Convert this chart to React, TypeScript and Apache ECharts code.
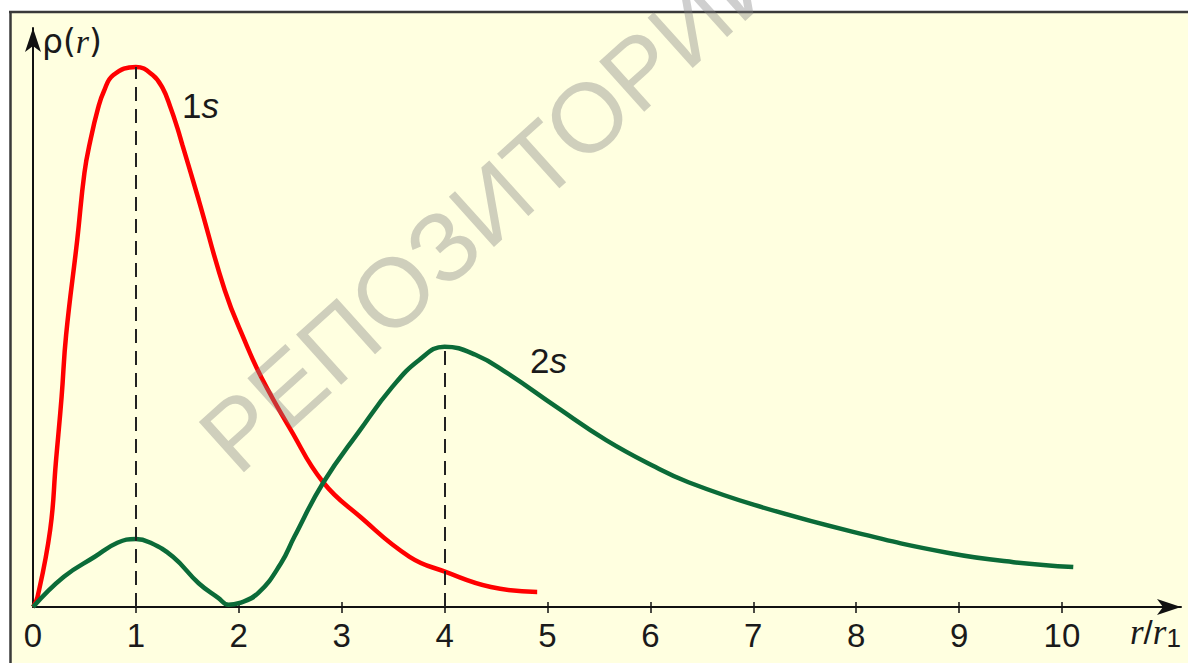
import React, { useEffect, useRef } from "react";
import * as echarts from "echarts";

// r / r1 values and relative probability density
const r1s = [0, 0.044, 0.167, 0.222, 0.278, 0.322, 0.43, 0.5, 0.559, 0.633, 0.689, 0.781, 1.0, 1.163, 1.259, 1.338, 1.403, 1.451, 1.61, 1.863, 2.055, 2.22, 2.505, 2.82, 3.18, 3.66, 4.01, 4.45, 4.9];
const rho1s = [0, 0.0185, 0.143, 0.267, 0.389, 0.504, 0.68, 0.804, 0.865, 0.924, 0.955, 0.985, 1.0, 0.985, 0.961, 0.924, 0.887, 0.856, 0.754, 0.587, 0.494, 0.425, 0.328, 0.231, 0.167, 0.093, 0.065, 0.037, 0.028];

const r2s = [0, 0.3, 0.6, 0.82, 1.0, 1.13, 1.36, 1.61, 1.8, 1.9, 2.0, 2.19, 2.41, 2.54, 2.82, 3.18, 3.49, 3.75, 4.0, 4.3, 4.61, 5.09, 5.57, 6.05, 6.37, 7.01, 7.97, 8.9, 9.53, 10.11];
const rho2s = [0, 0.056, 0.093, 0.119, 0.126, 0.12, 0.093, 0.044, 0.017, 0.004, 0.007, 0.026, 0.081, 0.13, 0.23, 0.328, 0.407, 0.457, 0.482, 0.467, 0.433, 0.37, 0.309, 0.259, 0.231, 0.189, 0.139, 0.1, 0.083, 0.074];

// most probable radii (dashed markers)
const peak1s = [1, 1.0];
const peak2s = [4, 0.482];

const tickLabels = [0, 1, 2, 3, 4, 5, 6, 7, 8, 9, 10];
const tickMarks = [1, 2, 3, 4, 5, 6, 7, 8, 9, 10];

const X_MAX = 11.157;
const Y_MAX = 1.072;

const sans = '"Liberation Sans", Arial, sans-serif';

export default function App() {
  const ref = useRef<HTMLDivElement>(null);

  useEffect(() => {
    if (!ref.current) return;
    const chart = echarts.init(ref.current, null, { renderer: "svg" });

    const dash = { type: [14, 8] as any, color: "#222", width: 2 };

    chart.setOption({
      animation: false,
      backgroundColor: "#FFFFE0",
      grid: { left: 33, right: 7, top: 28, bottom: 56, containLabel: false },
      xAxis: [
        {
          type: "value",
          min: 0,
          max: X_MAX,
          interval: 1,
          axisLine: {
            show: true,
            onZero: false,
            symbol: ["none", "arrow"],
            symbolSize: [12, 24],
            lineStyle: { color: "#111", width: 2 },
          },
          axisTick: {
            show: true,
            length: 6,
            customValues: tickMarks,
            lineStyle: { color: "#111", width: 1.5 },
          },
          axisLabel: {
            show: true,
            customValues: tickLabels,
            margin: 12,
            fontSize: 33,
            fontFamily: sans,
            color: "#1a1a1a",
          },
          splitLine: { show: false },
        },
        {
          type: "value",
          min: 0,
          max: X_MAX,
          interval: 1,
          position: "bottom",
          axisLine: { show: false },
          axisTick: {
            show: true,
            inside: true,
            length: 5,
            customValues: tickMarks,
            lineStyle: { color: "#111", width: 1.5 },
          },
          axisLabel: { show: false },
          splitLine: { show: false },
        },
      ],
      yAxis: {
        type: "value",
        min: 0,
        max: Y_MAX,
        axisLine: {
          show: true,
          onZero: false,
          symbol: ["none", "arrow"],
          symbolSize: [12, 24],
          lineStyle: { color: "#111", width: 2 },
        },
        axisTick: { show: false },
        axisLabel: { show: false },
        splitLine: { show: false },
      },
      series: [
        {
          name: "1s",
          type: "line",
          data: r1s.map((r, i) => [r, rho1s[i]]),
          showSymbol: false,
          smooth: 0.45,
          lineStyle: { color: "#FF0000", width: 4.5 },
          z: 3,
          markLine: {
            silent: true,
            symbol: ["none", "none"],
            label: { show: false },
            lineStyle: dash,
            data: [[{ coord: [peak1s[0], 0] }, { coord: [peak1s[0], peak1s[1]] }]],
          },
        },
        {
          name: "2s",
          type: "line",
          data: r2s.map((r, i) => [r, rho2s[i]]),
          showSymbol: false,
          smooth: 0.45,
          lineStyle: { color: "#0B6B38", width: 4.5 },
          z: 3,
          markLine: {
            silent: true,
            symbol: ["none", "none"],
            label: { show: false },
            lineStyle: dash,
            data: [[{ coord: [peak2s[0], 0] }, { coord: [peak2s[0], peak2s[1]] }]],
          },
        },
      ],
      graphic: [
        { type: "rect", z: -1, shape: { x: 0, y: 0, width: 1188, height: 11 }, style: { fill: "#FFFFFF" } },
        { type: "rect", z: -1, shape: { x: 0, y: 0, width: 10, height: 663 }, style: { fill: "#FFFFFF" } },
        { type: "line", z: 0, shape: { x1: 9, y1: 12, x2: 1188, y2: 12 }, style: { stroke: "#3a3a3a", lineWidth: 2.5 } },
        { type: "line", z: 0, shape: { x1: 10.5, y1: 11, x2: 10.5, y2: 663 }, style: { stroke: "#3a3a3a", lineWidth: 2.5 } },
        {
          type: "text",
          z: 5,
          x: 42,
          y: 24,
          style: {
            text: "{n|ρ(}{i|r}{n|)}",
            rich: {
              n: { fontSize: 33, fontFamily: '"DejaVu Sans", sans-serif', fill: "#1a1a1a" },
              i: { fontSize: 34, fontStyle: "italic", fontFamily: '"Liberation Serif", serif', fill: "#1a1a1a" },
            },
          },
        },
        {
          type: "text",
          z: 5,
          x: 182,
          y: 88,
          style: {
            text: "{n|1}{i|s}",
            rich: {
              n: { fontSize: 35, fontFamily: sans, fill: "#1a1a1a" },
              i: { fontSize: 35, fontStyle: "italic", fontFamily: sans, fill: "#1a1a1a" },
            },
          },
        },
        {
          type: "text",
          z: 5,
          x: 530,
          y: 343,
          style: {
            text: "{n|2}{i|s}",
            rich: {
              n: { fontSize: 35, fontFamily: sans, fill: "#1a1a1a" },
              i: { fontSize: 35, fontStyle: "italic", fontFamily: sans, fill: "#1a1a1a" },
            },
          },
        },
        {
          type: "text",
          z: 5,
          x: 1130,
          y: 613,
          style: {
            text: "{i|r}{n|/}{i|r}{s|1}",
            rich: {
              i: { fontSize: 35, fontStyle: "italic", fontFamily: '"Liberation Serif", serif', fill: "#1a1a1a" },
              n: { fontSize: 33, fontFamily: sans, fill: "#1a1a1a" },
              s: { fontSize: 26, fontFamily: sans, fill: "#1a1a1a", padding: [12, 0, 0, 0] },
            },
          },
        },
        {
          type: "text",
          z: 100,
          x: 492,
          y: 203,
          rotation: (42 * Math.PI) / 180,
          style: {
            text: "РЕПОЗИТОРИЙ",
            font: '98px "Liberation Sans", Arial, sans-serif',
            fill: "rgba(128,128,128,0.38)",
            align: "center",
            verticalAlign: "middle",
          },
        },
      ],
    });

    return () => chart.dispose();
  }, []);

  return (
    <div
      ref={ref}
      style={{ position: "absolute", left: 0, top: 0, width: 1188, height: 663 }}
    />
  );
}
